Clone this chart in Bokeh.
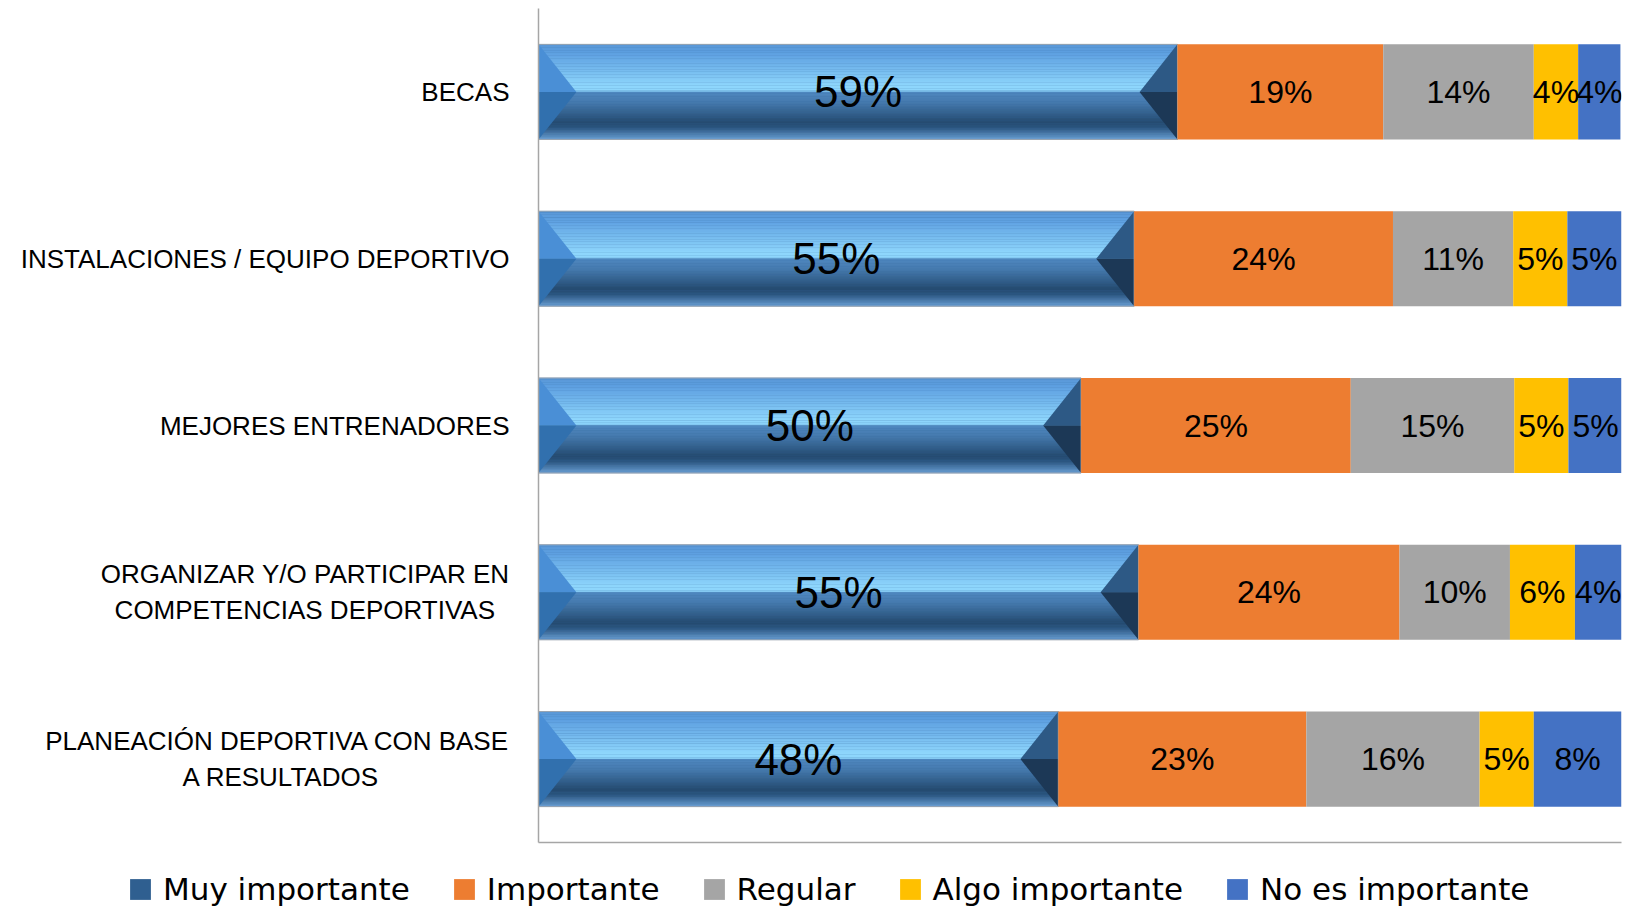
from bokeh.plotting import figure
from bokeh.models import Range1d, FixedTicker, Legend, LegendItem, ColumnDataSource
from bokeh.core.properties import value
from bokeh.embed import file_html
from bokeh.resources import INLINE

# ---------------- data ----------------
categories = [
    "BECAS",
    "INSTALACIONES / EQUIPO DEPORTIVO",
    "MEJORES ENTRENADORES",
    "ORGANIZAR Y/O PARTICIPAR EN\nCOMPETENCIAS DEPORTIVAS",
    "PLANEACIÓN DEPORTIVA CON BASE\nA RESULTADOS",
]
series_names = ["Muy importante", "Importante", "Regular", "Algo importante", "No es importante"]
muy_importante = [59.0, 55.0, 50.1, 55.4, 48.0]
importante = [19.0, 23.9, 24.9, 24.1, 22.9]
regular = [13.9, 11.1, 15.1, 10.2, 16.0]
algo_importante = [4.1, 5.0, 5.0, 6.0, 5.0]
no_es_importante = [3.9, 5.0, 5.0, 4.3, 8.1]

series_values = [muy_importante, importante, regular, algo_importante, no_es_importante]
series_colors = ["#36699c", "#ED7D31", "#A5A5A5", "#FFC000", "#4472C4"]

# ---------------- style ----------------
LBL_FONT = "Liberation Sans"
BAR_H = 0.57
BEVEL_W = 3.5
grad_stops = [(0.0, "#5a97d6"), (0.08, "#5c9ee0"), (0.44, "#8ed6fc"), (0.49, "#8ed6fc"),
              (0.50, "#4f88c0"), (0.62, "#4478ac"), (0.82, "#244a70"), (0.88, "#2b5680"),
              (1.0, "#6a9fd4")]

# approximate Arial advance widths (1/1000 em) used to centre multi-line labels
ARIAL_W = dict(zip(" /ABCDEFGHIJKLMNOPQRSTUVWXYZÓ",
                   [278, 278, 667, 667, 722, 722, 667, 611, 778, 722, 278, 500, 667, 556, 833,
                    722, 778, 667, 778, 722, 667, 611, 722, 667, 944, 667, 667, 611, 778]))


def centred_lines(label):
    lines = label.split("\n")
    if len(lines) == 1:
        return label
    widths = [sum(ARIAL_W.get(ch, 600) for ch in ln) for ln in lines]
    wmax = max(widths)
    out = [ln + "\u00a0" * int(round((wmax - w) / 2 / 278)) for ln, w in zip(lines, widths)]
    return "\n".join(out)


def hex2rgb(h):
    h = h.lstrip("#")
    return tuple(int(h[i:i + 2], 16) for i in (0, 2, 4))


def grad_color(t):
    for (t0, c0), (t1, c1) in zip(grad_stops[:-1], grad_stops[1:]):
        if t0 <= t <= t1:
            f = 0 if t1 == t0 else (t - t0) / (t1 - t0)
            a, b = hex2rgb(c0), hex2rgb(c1)
            return "#%02x%02x%02x" % tuple(int(round(a[i] + (b[i] - a[i]) * f)) for i in range(3))
    return grad_stops[-1][1]


n = len(categories)
y_pos = [i + 0.5 for i in range(n)]

p = figure(
    output_backend="svg", toolbar_location=None,
    frame_width=1083, frame_height=834,
    min_border_left=538, min_border_right=8, min_border_top=8, min_border_bottom=8,
    x_range=Range1d(0, 100), y_range=Range1d(n, 0),
)
p.outline_line_color = None
p.grid.visible = False
p.background_fill_color = "white"

lefts = [0.0] * n
for s, (vals, col) in enumerate(zip(series_values, series_colors)):
    rights = [l + v for l, v in zip(lefts, vals)]
    src = ColumnDataSource(dict(y=y_pos, left=lefts, right=rights))
    p.hbar(y="y", left="left", right="right", height=BAR_H, source=src,
           fill_color=col, line_color=None)
    if s == 0:
        # gradient strips for the bevelled first series
        NS = 60
        sy, sl, sr, sc = [], [], [], []
        for yc, l, rr in zip(y_pos, lefts, rights):
            for k in range(NS):
                t = (k + 0.5) / NS
                sy.append(yc - BAR_H / 2 + t * BAR_H)
                sl.append(l)
                sr.append(rr)
                sc.append(grad_color(t))
        p.hbar(y=sy, left=sl, right=sr, height=BAR_H / NS * 1.15, fill_color=sc, line_color=None)
        # bevel side facets
        for (side, col_up, col_lo) in (("L", "#4a8fd6", "#3170ae"), ("R", "#2d5985", "#1c3856")):
            up_x, up_y, lo_x, lo_y = [], [], [], []
            for yc, l, rr in zip(y_pos, lefts, rights):
                top, mid, bot = yc - BAR_H / 2, yc, yc + BAR_H / 2
                if side == "L":
                    up_x.append([l, l + BEVEL_W, l]); lo_x.append([l, l + BEVEL_W, l])
                else:
                    up_x.append([rr, rr - BEVEL_W, rr]); lo_x.append([rr, rr - BEVEL_W, rr])
                up_y.append([top, mid, mid]); lo_y.append([mid, mid, bot])
            p.patches(up_x, up_y, fill_color=col_up, line_color=None)
            p.patches(lo_x, lo_y, fill_color=col_lo, line_color=None)
        p.hbar(y="y", left="left", right="right", height=BAR_H, source=src,
               fill_color=None, line_color="#9aa4b0", line_width=1)
    # labels
    mids = [(l + rr) / 2 for l, rr in zip(lefts, rights)]
    txt = ["%d%%" % round(v) for v in vals]
    p.text(x=mids, y=y_pos, text=txt, text_align="center", text_baseline="middle",
           text_font=value(LBL_FONT), text_font_size="44px" if s == 0 else "32px",
           text_color="#000000")
    lefts = rights

# axes
p.yaxis.ticker = FixedTicker(ticks=y_pos)
p.yaxis.major_label_overrides = {y: centred_lines(c) for y, c in zip(y_pos, categories)}
p.yaxis.major_label_text_font = LBL_FONT
p.yaxis.major_label_text_font_size = "26px"
p.yaxis.major_label_text_color = "#000000"
p.yaxis.major_label_standoff = 29
p.yaxis.major_tick_out = 0
p.yaxis.major_tick_in = 0
p.yaxis.minor_tick_line_color = None
p.yaxis.axis_line_color = "#a6a6a6"
p.yaxis.axis_line_width = 1.5

p.xaxis.ticker = FixedTicker(ticks=[])
p.xaxis.major_tick_out = 0
p.xaxis.major_tick_in = 0
p.xaxis.minor_tick_line_color = None
p.xaxis.major_label_text_font_size = "0px"
p.xaxis.major_label_standoff = 0
p.xaxis.axis_label_standoff = 0
p.xaxis.axis_line_color = "#a6a6a6"
p.xaxis.axis_line_width = 1.5

# ---------------- legend strip (separate root below the chart) ----------------
pl = figure(
    output_backend="svg", toolbar_location=None, width=1629, height=57,
    min_border_left=0, min_border_right=0, min_border_top=0, min_border_bottom=0,
    x_axis_location=None, y_axis_location=None, x_range=Range1d(0, 1), y_range=Range1d(0, 1),
)
pl.outline_line_color = None
pl.grid.visible = False
legend_swatches = ["#2f5f90"] + series_colors[1:]
items = []
for nm, col in zip(series_names, legend_swatches):
    rr = pl.hbar(y=[-1], left=[-1], right=[-1], height=0, fill_color=col, line_color=None)
    items.append(LegendItem(label=nm, renderers=[rr]))
legend = Legend(
    items=items, orientation="horizontal", location=(127, 0),
    glyph_width=26, glyph_height=26, label_standoff=10, spacing=41,
    label_text_font="DejaVu Sans", label_text_font_size="31px", label_text_color="#000000",
    border_line_color=None, background_fill_alpha=0, padding=0, margin=0,
)
pl.add_layout(legend)

open("out.html", "w").write(file_html([p, pl], INLINE))
